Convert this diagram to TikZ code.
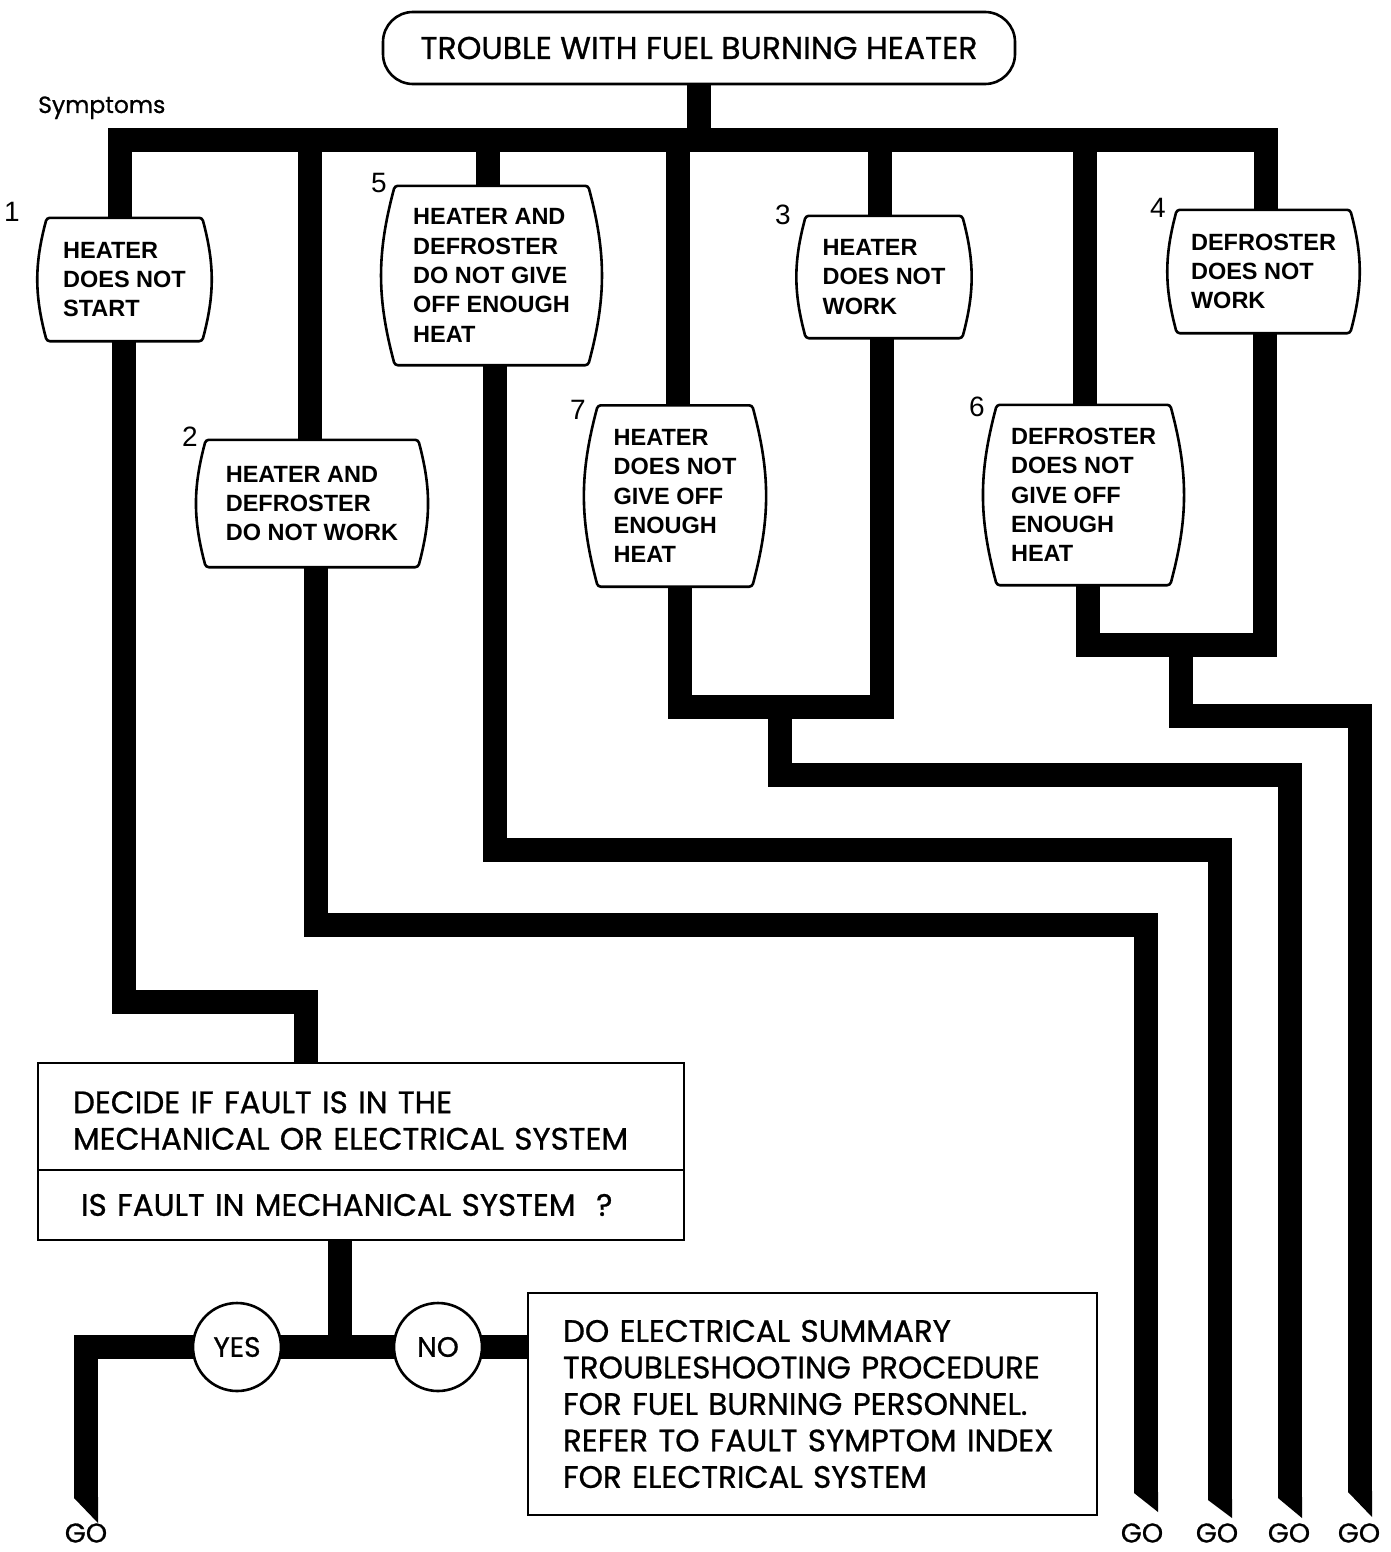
\documentclass[tikz,border=0pt]{standalone}
\usepackage{fontspec}
\setmainfont{Poppins}
\newfontfamily\fut[FakeBold=0.8]{Poppins}
\newfontfamily\helv{Liberation Sans}
\usetikzlibrary{calc}
\pgfdeclarelayer{bg}\pgfdeclarelayer{mid}\pgfsetlayers{bg,mid,main}
\begin{document}
\begin{tikzpicture}[x=1pt,y=-1pt,
  bar/.style={line width=24pt, line join=miter, line cap=butt},
  boxline/.style={line width=2.6pt, fill=white, rounded corners=3pt},
  sym/.style={font=\helv\bfseries\fontsize{23.5}{29.3}\selectfont, align=left, inner sep=0pt},
  num/.style={font=\helv\fontsize{28}{30}\selectfont, inner sep=0pt},
  futbox/.style={draw, line width=2.6pt, fill=white, align=left, inner ysep=0pt, font=\fut\fontsize{31}{36.5}\selectfont},
  golbl/.style={font=\fut\fontsize{27}{30}\selectfont, inner sep=0pt},
  ans/.style={circle, draw, line width=2.6pt, fill=white, minimum size=88pt, inner sep=0pt, font=\fut\fontsize{28}{32}\selectfont}
]
\begin{pgfonlayer}{bg}
\fill[white] (0,0) rectangle (1391,1552);
\end{pgfonlayer}
\useasboundingbox (0,0) rectangle (1391,1552);

% title and label
\node[draw, line width=2.6pt, rounded corners=30pt, minimum width=632pt, minimum height=72pt, fill=white,
      font=\fut\fontsize{31.5}{36}\selectfont] (title) at (699,48) {TROUBLE WITH FUEL BURNING HEATER};
\node[anchor=base west, inner sep=0pt, font=\fut\fontsize{23.5}{30}\selectfont] (symp) at (38,113) {Symptoms};

% symptom boxes
\node[sym, minimum width=155pt, minimum height=123pt] (b1) at (124.5,279.5) {HEATER\\DOES NOT\\START};
\node[sym, minimum width=212pt, minimum height=127pt] (b2) at (312,503.5) {HEATER AND\\DEFROSTER\\DO NOT WORK};
\node[sym, minimum width=193pt, minimum height=179pt] (b5) at (491.5,275.5) {HEATER AND\\DEFROSTER\\DO NOT GIVE\\OFF ENOUGH\\HEAT};
\node[sym, minimum width=154pt, minimum height=181pt] (b7) at (675,496) {HEATER\\DOES NOT\\GIVE OFF\\ENOUGH\\HEAT};
\node[sym, minimum width=156pt, minimum height=122pt] (b3) at (884,277) {HEATER\\DOES NOT\\WORK};
\node[sym, minimum width=173pt, minimum height=180pt] (b6) at (1083.5,495) {DEFROSTER\\DOES NOT\\GIVE OFF\\ENOUGH\\HEAT};
\node[sym, minimum width=173pt, minimum height=123pt] (b4) at (1263.5,271.5) {DEFROSTER\\DOES NOT\\WORK};

\begin{pgfonlayer}{mid}
\foreach \n in {b1,b2,b3,b4,b5,b6,b7}
  \draw[boxline] (\n.north west) to[bend right=15] (\n.south west) -- (\n.south east)
     to[bend right=15] (\n.north east) -- cycle;
\end{pgfonlayer}

% numbers
\node[num] (n1) at (12,212) {1};
\node[num] (n2) at (190,437) {2};
\node[num] (n3) at (783,215) {3};
\node[num] (n4) at (1158,208) {4};
\node[num] (n5) at (379,183) {5};
\node[num] (n6) at (977,407) {6};
\node[num] (n7) at (578,410) {7};

% decision boxes
\node[futbox, inner xsep=35pt, text width=576pt, minimum height=107pt] (dtop) at (361,1116.5)
  {\rule{0pt}{30pt}DECIDE IF FAULT IS IN THE\\MECHANICAL OR ELECTRICAL SYSTEM};
\node[futbox, inner xsep=43pt, text width=560pt, minimum height=70pt] (dbot) at (361,1205)
  {IS FAULT IN MECHANICAL SYSTEM\ \ ?};
\node[ans] (yes) at (237,1347) {YES};
\node[ans] (no) at (438,1347) {NO};
\node[futbox, inner xsep=35pt, text width=499pt, minimum height=222pt] (elec) at (812.5,1404)
  {DO ELECTRICAL SUMMARY\\TROUBLESHOOTING PROCEDURE\\FOR FUEL BURNING PERSONNEL.\\REFER TO FAULT SYMPTOM INDEX\\FOR ELECTRICAL SYSTEM};

% GO labels
\node[golbl] (go0) at (86,1533) {GO};
\node[golbl] (go1) at (1142,1533) {GO};
\node[golbl] (go2) at (1217,1533) {GO};
\node[golbl] (go3) at (1289,1533) {GO};
\node[golbl] (go4) at (1359,1533) {GO};

% connector coordinates
\coordinate (t1) at (120,140);
\coordinate (t2) at (310,140);
\coordinate (t5) at (488,140);
\coordinate (t7) at (678,140);
\coordinate (t3) at (880,140);
\coordinate (t6) at (1085,140);
\coordinate (t4) at (1266,140);
\coordinate (kA1) at (124,1002);
\coordinate (kA2) at (306,1002);
\coordinate (kB1) at (316,925);
\coordinate (kB2) at (1146,925);
\coordinate (eB) at (1146,1493);
\coordinate (kC1) at (495,850);
\coordinate (kC2) at (1220,850);
\coordinate (eC) at (1220,1500);
\coordinate (kD1) at (680,707);
\coordinate (kD2) at (882,707);
\coordinate (kD3) at (780,707);
\coordinate (kD4) at (780,775);
\coordinate (kD5) at (1290,775);
\coordinate (eD) at (1290,1498);
\coordinate (kF1) at (1088,645);
\coordinate (kF2) at (1265,645);
\coordinate (kF3) at (1181,645);
\coordinate (kF4) at (1181,716);
\coordinate (kF5) at (1360,716);
\coordinate (eF) at (1360,1492);
\coordinate (kV) at (340,1347);
\coordinate (eY) at (86,1498);

\begin{pgfonlayer}{bg}
\draw[bar] (title.south) -- (title.south |- t1);
\draw[bar] (b1.north -| t1) -- (t1) -- (t4) -- (b4.north -| t4);
\foreach \t/\b in {t2/b2, t5/b5, t7/b7, t3/b3, t6/b6}
  \draw[bar] (\t) -- (\b.north -| \t);
\draw[bar] (b1.south -| kA1) -- (kA1) -- (kA2) -- (dtop.north -| kA2);
\draw[bar] (b2.south -| kB1) -- (kB1) -- (kB2) -- (eB);
\draw[bar] (b5.south -| kC1) -- (kC1) -- (kC2) -- (eC);
\draw[bar] (b7.south -| kD1) -- (kD1) -- (kD2) -- (b3.south -| kD2);
\draw[bar] (kD3) -- (kD4) -- (kD5) -- (eD);
\draw[bar] (b6.south -| kF1) -- (kF1) -- (kF2) -- (b4.south -| kF2);
\draw[bar] (kF3) -- (kF4) -- (kF5) -- (eF);
\draw[bar] (dbot.south -| kV) -- (kV);
\draw[bar] (eY) |- (yes.center) -- (no.center) -- (no.center -| elec.west);
\foreach \e/\d in {eB/19, eC/18, eD/20, eF/25, eY/25}
  \fill ($(\e)+(-12,-1)$) -- ($(\e)+(12,-1)$) -- ($(\e)+(12,\d)$) -- ($(\e)+(-12,0)$) -- cycle;
\end{pgfonlayer}
\end{tikzpicture}
\end{document}
